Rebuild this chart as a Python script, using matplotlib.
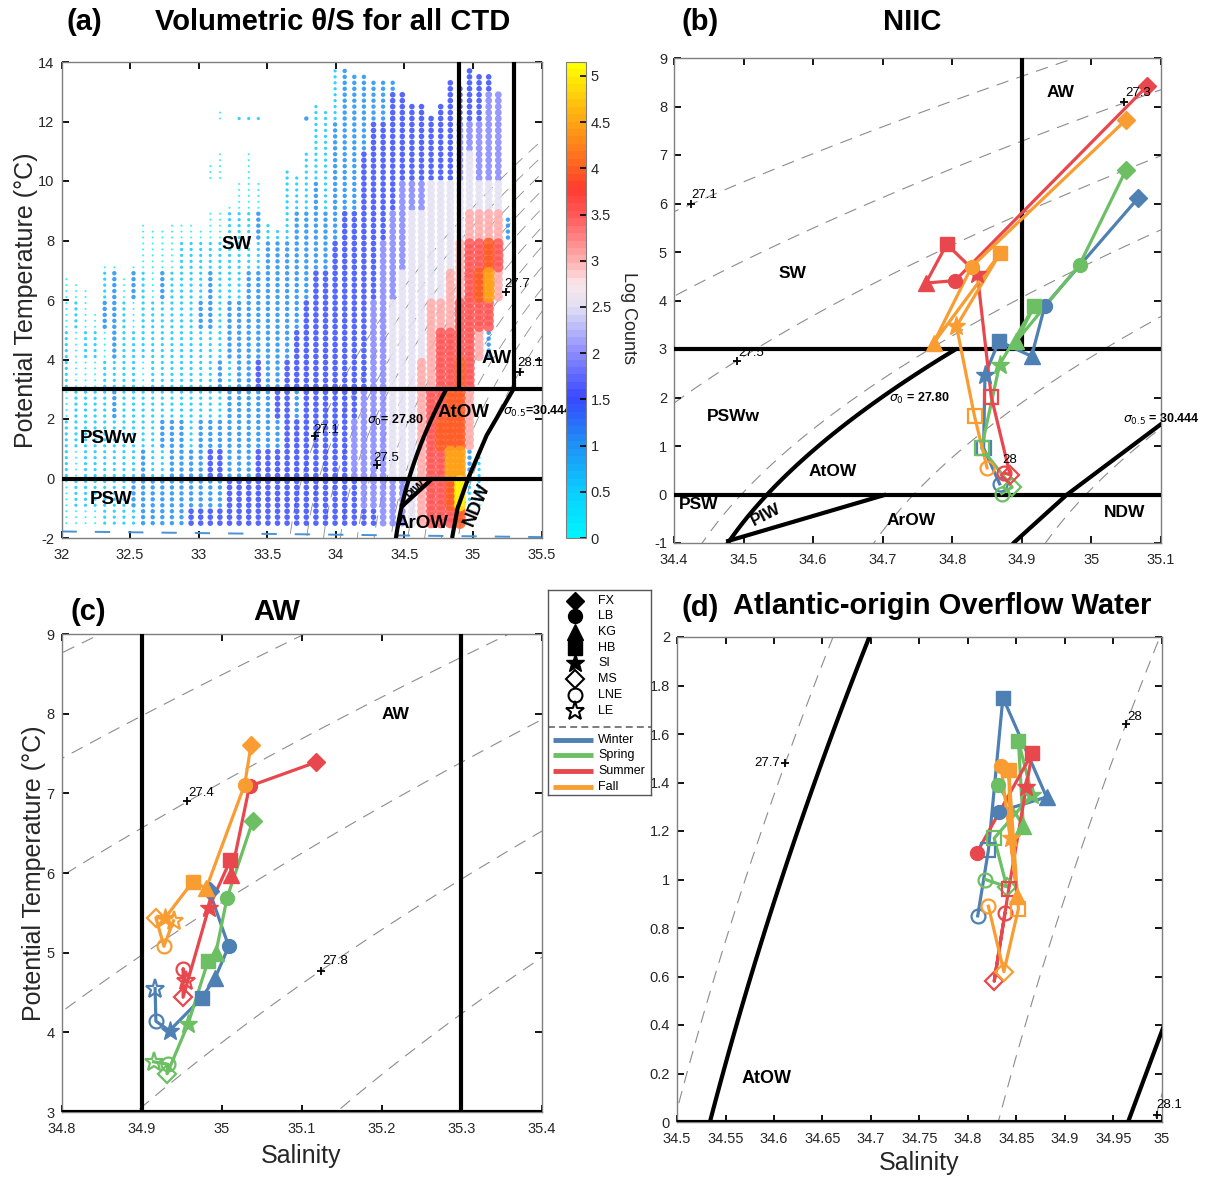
import numpy as np
import matplotlib.pyplot as plt
from matplotlib.colors import LinearSegmentedColormap, Normalize
from matplotlib.cm import ScalarMappable
from matplotlib.ticker import FuncFormatter

plt.rcParams['font.family'] = ['Liberation Sans', 'DejaVu Sans']
plt.rcParams['lines.scale_dashes'] = False
plt.rcParams['lines.dashed_pattern'] = [9, 6]

# ---------------- panel (a): volumetric census (0.07 psu x 0.2 degC bins) ----------------
sal_bins = np.round(32.035 + 0.07 * np.arange(50), 3)
temp_bins = np.round(np.arange(-1.5, 13.75, 0.2), 2)
# warmest occupied bin per salinity column
col_top = [6.7, 6.5, 6.3, 5.5, 7.1, 7.1, 6.7, 7.1, 8.5, 8.3,
           8.3, 8.5, 8.5, 8.5, 8.3, 10.5, 12.3, 9.1, 12.1, 12.1,
           12.1, 8.5, 8.3, 10.3, 10.1, 12.1, 12.5, 12.3, 13.7, 13.7,
           13.5, 13.5, 13.3, 13.3, 13.3, 12.9, 12.5, 12.5, 12.1, 12.5,
           13.3, 13.1, 13.7, 13.5, 13.5, 12.9, 8.7, np.nan, np.nan, np.nan]
# log10 counts in half steps ('0'=0 ... '9'=4.5, 'a'=5), one char per 1 degC band (13-14 first)
col_levels = [
    ".......001101100", ".......010011010", ".......001011110", "........01011110",
    "......0120111111", "......0222121111", "......0011111111", "......0201111121",
    ".....00111011222", ".....00011111122", ".....00211112122", ".....00111112222",
    ".....01111112222", ".....01111111223", ".....01121112223", "...0.01221112323",
    ".0.0.01111212323", "....011122122233", ".1..011122222233", ".1.0011222222233",
    ".1..021222322333", ".....12222222333", ".....12222232333", "...1112222333333",
    "...1122223323333", ".2.1122233333333", ".111222333333333", ".111122333333333",
    "1122223333333333", "2222233333333333", "2222233333334433", "2223333333344443",
    "2233333344444443", "2233334444444444", "2333344455555544", "2333444555555544",
    ".333455555555555", ".333455555666666", ".333555566677777", ".333555567778777",
    "3333555667788987", "33445566778889a8", "334556777776621.", "3344567876...11.",
    "3444568972......", ".4445676........", ".....2..........", "................",
    "................", "................",
]

# water-mass boundaries
ndw_S = [34.848, 34.888, 34.965, 35.10, 35.295]   # sigma_0.5 = 30.444
ndw_T = [-2.0, -1.0, 0.0, 1.45, 3.0]
piw_S = [34.475, 34.705]
piw_T = [-0.97, 0.0]
freeze_S = [32.0, 35.5]
freeze_T = [-1.78, -1.97]

# ---------------- station means ----------------
stations = ['FX', 'LB', 'KG', 'HB', 'SI', '', 'MS', 'LNE', 'LE']
st_marker = ['D', 'o', '^', 's', '*', 's', 'D', 'o', '*']
st_filled = [1, 1, 1, 1, 1, 0, 0, 0, 0]
seasons = ['Winter', 'Spring', 'Summer', 'Fall']
season_colors = ['#4f80b3', '#6cbf63', '#e8484d', '#f99d33']
nan = np.nan

# (b) NIIC
niic_S = [[35.067, 34.933, 34.914, 34.867, 34.847, 34.845, nan, 34.868, nan],
          [35.050, 34.983, 34.892, 34.918, 34.868, 34.842, 34.886, 34.871, nan],
          [35.080, 34.804, 34.762, 34.792, 34.836, 34.856, 34.883, 34.875, nan],
          [35.050, 34.828, 34.773, 34.869, 34.806, 34.832, nan, 34.850, nan]]
niic_T = [[6.11, 3.89, 2.85, 3.16, 2.47, 0.96, nan, 0.22, nan],
          [6.70, 4.74, 3.16, 3.89, 2.68, 0.96, 0.15, 0.02, nan],
          [8.42, 4.41, 4.36, 5.16, 4.55, 2.02, 0.41, 0.44, nan],
          [7.73, 4.70, 3.12, 4.98, 3.47, 1.61, nan, 0.55, nan]]
# (c) AW
aw_S = [[34.985, 35.009, 34.992, 34.975, 34.935, nan, nan, 34.918, 34.917],
        [35.039, 35.007, 34.993, 34.983, 34.958, nan, 34.932, 34.933, 34.915],
        [35.118, 35.035, 35.012, 35.011, 34.984, nan, 34.952, 34.952, 34.955],
        [35.037, 35.029, 34.981, 34.964, 34.929, nan, 34.918, 34.928, 34.940]]
aw_T = [[5.77, 5.08, 4.68, 4.43, 4.02, nan, nan, 4.14, 4.55],
        [6.65, 5.69, 5.00, 4.89, 4.10, nan, 3.48, 3.60, 3.63],
        [7.39, 7.09, 5.98, 6.16, 5.56, nan, 4.44, 4.80, 4.64],
        [7.61, 7.11, 5.81, 5.89, 5.43, nan, 5.44, 5.08, 5.40]]
# (d) AtOW
atow_S = [[nan, 34.832, 34.881, 34.836, nan, 34.821, nan, 34.810, nan],
          [nan, 34.831, 34.857, 34.852, 34.866, 34.827, 34.840, 34.818, nan],
          [nan, 34.809, nan, 34.866, 34.860, 34.842, 34.827, 34.838, nan],
          [nan, 34.834, 34.851, 34.842, 34.844, 34.852, 34.837, 34.821, nan]]
atow_T = [[nan, 1.28, 1.34, 1.75, nan, 1.12, nan, 0.85, nan],
          [nan, 1.39, 1.22, 1.57, 1.35, 1.17, 0.97, 1.00, nan],
          [nan, 1.11, nan, 1.52, 1.38, 0.96, 0.58, 0.86, nan],
          [nan, 1.47, 0.93, 1.45, 1.17, 0.88, 0.62, 0.89, nan]]


def sigma0(S, T):
    # UNESCO 1980 one-atmosphere density minus 1000
    rw = (999.842594 + 6.793952e-2 * T - 9.095290e-3 * T**2 + 1.001685e-4 * T**3
          - 1.120083e-6 * T**4 + 6.536332e-9 * T**5)
    A = 8.24493e-1 - 4.0899e-3 * T + 7.6438e-5 * T**2 - 8.2467e-7 * T**3 + 5.3875e-9 * T**4
    B = -5.72466e-3 + 1.0227e-4 * T - 1.6546e-6 * T**2
    return rw + A * S + B * S**1.5 + 4.8314e-4 * S**2 - 1000


W, H = 1205, 1180
fig = plt.figure(figsize=(W / 100, H / 100), dpi=100)


def box(l, t, r, b):
    return fig.add_axes([l / W, 1 - b / H, (r - l) / W, (b - t) / H])


gfmt = FuncFormatter(lambda v, p: f'{v:g}')


def style(ax, xlim, ylim, xt, yt):
    ax.set_xlim(*xlim)
    ax.set_ylim(*ylim)
    ax.set_xticks(xt)
    ax.set_yticks(yt)
    ax.xaxis.set_major_formatter(gfmt)
    ax.yaxis.set_major_formatter(gfmt)
    ax.tick_params(direction='in', top=True, right=True, length=5, width=1.3,
                   color='k', labelcolor='#262626', labelsize=10.5)
    ax.tick_params(axis='x', pad=7)
    ax.tick_params(axis='y', pad=5)
    for sp in ax.spines.values():
        sp.set_color('#7f7f7f')
        sp.set_linewidth(1.0)


SS, TT = np.meshgrid(np.linspace(31.9, 35.7, 400), np.linspace(-2.5, 14.5, 400))
SIG = sigma0(SS, TT)
SSl, TTl = np.meshgrid(np.linspace(34.0, 35.7, 300), np.linspace(-2.5, 3.0, 200))
SIGl = sigma0(SSl, TTl)


def isopycnals(ax, levels, lw=0.8, z=1):
    ax.contour(SS, TT, SIG, levels=levels, colors='0.55', linewidths=lw,
               linestyles='dashed', zorder=z)


def boundaries(ax, top, aw_right=None):
    kw = dict(color='k', lw=3, solid_capstyle='butt', zorder=4)
    ax.axhline(3, **kw)
    ax.axhline(0, **kw)
    ax.plot([34.9, 34.9], [3, top], **kw)
    if aw_right is not None:
        ax.plot([aw_right, aw_right], [3, top], **kw)
    ax.contour(SSl, TTl, SIGl, levels=[27.73], colors='k', linewidths=3, zorder=4)
    ax.plot(ndw_S, ndw_T, **kw)
    ax.plot(piw_S, piw_T, **kw)


def clab(ax, s, t, txt, ts, tt, fs=9.5):
    ax.plot(s, t, '+', color='k', ms=6, mew=1.3, zorder=7)
    ax.text(ts, tt, txt, fontsize=fs, ha='center', va='center', zorder=7)


msize = {'D': 9, 'o': 10, '^': 11, 's': 10, '*': 14}


def draw_stations(ax, S_sets, T_sets):
    for S, T, c in zip(S_sets, T_sets, season_colors):
        S = np.array(S, float)
        T = np.array(T, float)
        ok = ~np.isnan(S)
        ax.plot(S[ok], T[ok], '-', color=c, lw=2.3, zorder=5)
        for i in np.where(ok)[0]:
            m = st_marker[i]
            if st_filled[i]:
                ax.plot(S[i], T[i], m, ms=msize[m], mfc=c, mec=c, mew=1, zorder=6)
            else:
                ax.plot(S[i], T[i], m, ms=msize[m], mfc='none', mec=c, mew=1.6, zorder=6)


bold = dict(fontweight='bold', ha='center', va='center', zorder=8)

# ---------------- (a) ----------------
cmap = LinearSegmentedColormap.from_list('logc', [
    (0.0, '#00f4ff'), (0.5 / 5.15, '#0ccaff'), (1.0 / 5.15, '#1f8ff5'),
    (1.5 / 5.15, '#3848ff'), (2.0 / 5.15, '#8c8cff'), (2.5 / 5.15, '#e2e0f4'),
    (2.75 / 5.15, '#fae6ea'), (3.0 / 5.15, '#ffb0b0'), (3.5 / 5.15, '#ff5a5a'),
    (3.8 / 5.15, '#ff3b2e'), (4.1 / 5.15, '#ff6a20'), (4.6 / 5.15, '#ffae12'),
    (1.0, '#ffff00')], N=64)
norm = Normalize(0, 5.15)

lev_val = {c: int(c) * 0.5 for c in '0123456789'}
lev_val['a'] = 5.0
pS, pT, pL = [], [], []
for k, s in enumerate(sal_bins):
    if np.isnan(col_top[k]):
        continue
    for t in temp_bins:
        if t > col_top[k] + 1e-6:
            continue
        band = min(15, max(0, int(np.floor(14 - t))))
        ch = col_levels[k][band]
        if ch == '.':
            continue
        pS.append(s)
        pT.append(t)
        pL.append(lev_val[ch])
pS, pT, pL = np.array(pS), np.array(pT), np.array(pL)
order = np.argsort(pL, kind='stable')
pS, pT, pL = pS[order], pT[order], pL[order]
diam = np.clip(2.0 + 2.4 * pL, 2.0, 12.0)

axa = box(61.5, 62, 541.5, 538)
isopycnals(axa, np.round(np.arange(27.1, 28.15, 0.1), 2), lw=0.6, z=1)
axa.scatter(pS, pT, s=(diam * 0.72) ** 2, c=pL, cmap=cmap, norm=norm,
            linewidths=0, alpha=0.85, zorder=2)
axa.plot(freeze_S, freeze_T, color='#4b93d3', lw=1.4, dashes=(11, 13), zorder=3)
boundaries(axa, 14, aw_right=35.3)
style(axa, (32, 35.5), (-2, 14), np.arange(32, 35.51, 0.5), np.arange(-2, 14.1, 2))
axa.text(33.28, 7.86, 'SW', fontsize=13.5, **bold)
axa.text(32.34, 1.33, 'PSWw', fontsize=13.5, **bold)
axa.text(32.36, -0.69, 'PSW', fontsize=13.5, **bold)
axa.text(34.93, 2.22, 'AtOW', fontsize=13.5, **bold)
axa.text(35.17, 4.05, 'AW', fontsize=13.5, **bold)
axa.text(34.63, -1.5, 'ArOW', fontsize=13.5, **bold)
axa.text(35.03, -0.88, 'NDW', fontsize=13.5, rotation=68, **bold)
axa.text(34.59, -0.4, 'PIW', fontsize=8.5, rotation=42, **bold)
axa.text(34.44, 1.95, r'$\sigma_0$= 27.80', fontsize=9, **bold)
axa.text(35.22, 2.26, r'$\sigma_{0.5}$=30.444', fontsize=9, fontweight='bold',
         ha='left', va='center', zorder=8, clip_on=False)
clab(axa, 33.85, 1.42, '27.1', 33.93, 1.64)
clab(axa, 34.3, 0.45, '27.5', 34.37, 0.69)
clab(axa, 35.24, 6.26, '27.7', 35.32, 6.55)
clab(axa, 35.34, 3.57, '28.1', 35.42, 3.88)
axa.set_ylabel('Potential Temperature (\u00b0C)', fontsize=18, color='#262626', labelpad=0)

cax = box(566, 62, 586, 538)
cb = fig.colorbar(ScalarMappable(norm=norm, cmap=cmap), cax=cax,
                  ticks=np.arange(0, 5.01, 0.5))
cb.ax.yaxis.set_major_formatter(gfmt)
cb.ax.tick_params(direction='in', length=4, width=1.2, labelsize=10.5,
                  labelcolor='#262626')
cb.outline.set_edgecolor('#7f7f7f')
fig.text(628 / W, 1 - 318 / H, 'Log Counts', rotation=270, fontsize=13,
         ha='center', va='center', color='#262626')

# ---------------- (b) ----------------
axb = box(674, 58, 1161, 543)
isopycnals(axb, [27.1, 27.3, 27.5, 27.7, 27.9, 28.1])
boundaries(axb, 9)
draw_stations(axb, niic_S, niic_T)
style(axb, (34.4, 35.1), (-1, 9), np.arange(34.4, 35.11, 0.1), np.arange(-1, 9.1, 1))
axb.text(34.956, 8.29, 'AW', fontsize=12.5, **bold)
axb.text(34.571, 4.55, 'SW', fontsize=12.5, **bold)
axb.text(34.485, 1.61, 'PSWw', fontsize=12.5, **bold)
axb.text(34.628, 0.48, 'AtOW', fontsize=12.5, **bold)
axb.text(34.436, -0.21, 'PSW', fontsize=12.5, **bold)
axb.text(34.532, -0.42, 'PIW', fontsize=12, rotation=27, **bold)
axb.text(34.741, -0.53, 'ArOW', fontsize=12.5, **bold)
axb.text(35.047, -0.38, 'NDW', fontsize=12.5, **bold)
axb.text(34.753, 1.98, r'$\sigma_0$ = 27.80', fontsize=9, **bold)
axb.text(35.045, 1.54, r'$\sigma_{0.5}$ = 30.444', fontsize=9, fontweight='bold',
         ha='left', va='center', zorder=8, clip_on=False)
clab(axb, 34.425, 5.98, '27.1', 34.443, 6.17)
clab(axb, 34.49, 2.75, '27.5', 34.511, 2.92)
clab(axb, 35.047, 8.09, '27.3', 35.067, 8.28)
axb.text(34.882, 0.72, '28', fontsize=9.5, ha='center', va='center', zorder=7)

# ---------------- (c) ----------------
axc = box(61.5, 634, 541.5, 1112)
isopycnals(axc, [27.0, 27.2, 27.4, 27.6, 27.8, 28.0])
kw = dict(color='k', lw=3, solid_capstyle='butt', zorder=4)
axc.axhline(3, **kw)
axc.axvline(34.9, **kw)
axc.axvline(35.3, **kw)
draw_stations(axc, aw_S, aw_T)
style(axc, (34.8, 35.4), (3, 9), np.arange(34.8, 35.41, 0.1), np.arange(3, 9.1, 1))
axc.text(35.217, 7.99, 'AW', fontsize=12.5, **bold)
clab(axc, 34.957, 6.90, '27.4', 34.975, 7.0)
clab(axc, 35.124, 4.77, '27.8', 35.142, 4.89)
axc.set_ylabel('Potential Temperature (\u00b0C)', fontsize=18, color='#262626', labelpad=0)
axc.set_xlabel('Salinity', fontsize=18, color='#262626', labelpad=6)

# ---------------- (d) ----------------
axd = box(677, 637, 1162, 1122)
isopycnals(axd, [27.7, 27.97, 28.1])
axd.axhline(0, **kw)
axd.contour(SSl, TTl, SIGl, levels=[27.73], colors='k', linewidths=3, zorder=4)
axd.plot(ndw_S, ndw_T, **kw)
draw_stations(axd, atow_S, atow_T)
style(axd, (34.5, 35.0), (0, 2), np.arange(34.5, 35.01, 0.05), np.arange(0, 2.01, 0.2))
axd.text(34.592, 0.18, 'AtOW', fontsize=13, **bold)
axd.plot(34.611, 1.48, '+', color='k', ms=6, mew=1.3, zorder=7)
axd.text(34.606, 1.48, '27.7', fontsize=9.5, ha='right', va='center', zorder=7)
clab(axd, 34.963, 1.64, '28', 34.972, 1.67)
clab(axd, 34.995, 0.03, '28.1', 35.007, 0.07)
axd.set_xlabel('Salinity', fontsize=18, color='#262626', labelpad=4)

# ---------------- legend ----------------
lg = box(548, 590, 651, 795)
lg.set_xlim(548, 651)
lg.set_ylim(795, 590)
lg.set_xticks([])
lg.set_yticks([])
for sp in lg.spines.values():
    sp.set_color('#555555')
    sp.set_linewidth(1.0)
rows = [601, 616, 632, 648, 663, 679, 695, 711]
leg_idx = [i for i, n in enumerate(stations) if n]
for y, i in zip(rows, leg_idx):
    m = st_marker[i]
    if st_filled[i]:
        lg.plot(575, y, m, ms=msize[m], mfc='k', mec='k')
    else:
        lg.plot(575, y, m, ms=msize[m], mfc='none', mec='k', mew=1.5)
    lg.text(598, y, stations[i], fontsize=9, va='center', ha='left')
lg.plot([548, 651], [727, 727], color='#666666', lw=1.2, dashes=(5, 3))
for y, name, c in zip([740, 755, 771, 787], seasons, season_colors):
    lg.plot([553, 593], [y, y], color=c, lw=3.5, solid_capstyle='butt')
    lg.text(598, y, name, fontsize=9, va='center', ha='left')

# ---------------- titles ----------------
tkw = dict(fontsize=21, fontweight='bold', ha='center', va='center')
fig.text(84 / W, 1 - 22 / H, '(a)', **tkw)
fig.text(333 / W, 1 - 22 / H, 'Volumetric \u03b8/S for all CTD', **tkw)
fig.text(700 / W, 1 - 22 / H, '(b)', **tkw)
fig.text(912 / W, 1 - 22 / H, 'NIIC', **tkw)
fig.text(88 / W, 1 - 612 / H, '(c)', **tkw)
fig.text(277 / W, 1 - 612 / H, 'AW', **tkw)
fig.text(700 / W, 1 - 608 / H, '(d)', **tkw)
fig.text(942 / W, 1 - 606 / H, 'Atlantic-origin Overflow Water', **tkw)

fig.savefig('out.png', dpi=100)
